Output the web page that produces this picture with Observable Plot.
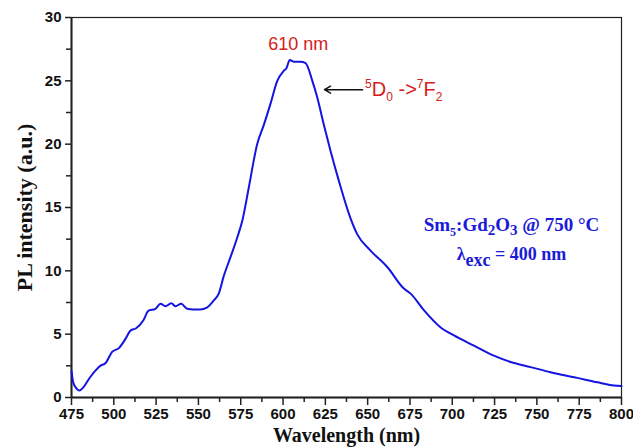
<!DOCTYPE html>
<html><head><meta charset="utf-8">
<script src="https://cdn.jsdelivr.net/npm/d3@7"></script>
<script src="https://cdn.jsdelivr.net/npm/@observablehq/plot@0.6"></script>
<style>body{margin:0;background:#fff;} svg{display:block;}</style>
</head><body><div id="chart"></div>
<script>
const wavelength = [475,476,478,479.7,482,486,489,492,495,499,503,507,510,513,517.5,520.5,524.6,527.6,530.5,534,536.5,539.8,543.4,547,551,555,559,562,565,569,573,576,579.8,584.7,588.6,592.6,596.6,600.5,602,604,606.4,610.3,613.3,617.3,620.2,624,628,633,640,643.8,651.7,661.6,671.4,675.4,683.2,693,701,712.8,724.6,734.5,746.3,758,773.9,785.7,795.5,800];
const intensity = [2.1,1.2,0.7,0.55,0.8,1.6,2.1,2.5,2.7,3.6,3.9,4.65,5.3,5.45,6.1,6.85,7.0,7.4,7.2,7.45,7.2,7.4,7.0,6.95,6.95,7.1,7.65,8.2,9.6,11.1,12.65,14.0,16.6,20.0,21.5,23.2,25.0,25.8,26.0,26.65,26.5,26.5,26.4,25.0,23.7,21.6,19.5,17.1,14.1,12.9,11.6,10.3,8.6,8.2,6.9,5.55,4.9,4.1,3.3,2.8,2.4,2.0,1.55,1.2,0.95,0.9];
const xTicks = [475,500,525,550,575,600,625,650,675,700,725,750,775,800];
const xMinor = [487.5,512.5,537.5,562.5,587.5,612.5,637.5,662.5,687.5,712.5,737.5,762.5,787.5];
const yTicks = [0,5,10,15,20,25,30];
const yMinor = [2.5,7.5,12.5,17.5,22.5,27.5];
const peakLabel = "610 nm";
const transitionLabel = "5D0 ->7F2";
const sampleLabel = "Sm5:Gd2O3 @ 750 °C";
const excLabel = "λexc = 400 nm";
const xLabel = "Wavelength (nm)";
const yLabel = "PL intensity (a.u.)";

const data = wavelength.map((w, i) => ({w, v: intensity[i]}));
const sans = "'Liberation Sans', Arial, sans-serif";
const serif = "'Liberation Serif', 'Times New Roman', serif";

const chart = Plot.plot({
  width: 633, height: 448,
  marginLeft: 71, marginRight: 12, marginTop: 17, marginBottom: 51,
  style: {fontFamily: sans, background: "#fff"},
  x: {domain: [475, 800]},
  y: {domain: [0, 30]},
  marks: [
    Plot.frame({stroke: "#222", strokeWidth: 1.2}),
    Plot.axisX({ticks: xTicks, tickSize: 8, tickPadding: 3, label: null, fill: "#111", stroke: "#222", strokeWidth: 1.5}),
    Plot.axisX({ticks: xMinor, tickSize: 5, tickFormat: () => "", label: null, stroke: "#222", strokeWidth: 1.5}),
    Plot.axisY({ticks: yTicks, tickSize: 6, tickPadding: 4, label: null, fill: "#111", stroke: "#222", strokeWidth: 1.5}),
    Plot.axisY({ticks: yMinor, tickSize: 5, tickFormat: () => "", label: null, stroke: "#222", strokeWidth: 1.5}),
    Plot.ruleX([475], {stroke: "#222", strokeWidth: 2}),
    Plot.ruleY([0], {stroke: "#222", strokeWidth: 2}),
    Plot.line(data, {x: "w", y: "v", stroke: "#1414e0", strokeWidth: 2, curve: "monotone-x"}),
    Plot.text([peakLabel], {x: 609, y: 27.9, fill: "#d42020", fontSize: 18, fontFamily: sans}),
    Plot.arrow([{x1: 647, x2: 624.5, y: 24.3}], {x1: "x1", x2: "x2", y1: "y", y2: "y", stroke: "#111", strokeWidth: 1.5, headLength: 7}),
    Plot.text([transitionLabel], {x: 648.5, y: 24.3, textAnchor: "start", fill: "#d42020", fontSize: 20, fontFamily: sans}),
    Plot.text([sampleLabel], {x: 735, y: 13.6, fill: "#1a1ad8", fontSize: 19, fontWeight: "bold", fontFamily: serif}),
    Plot.text([excLabel], {x: 735, y: 11.3, fill: "#1a1ad8", fontSize: 18, fontWeight: "bold", fontFamily: serif}),
    Plot.text([xLabel], {frameAnchor: "bottom", dy: 44, fontSize: 20, fontWeight: "bold", fontFamily: serif, fill: "#111"}),
    Plot.text([yLabel], {frameAnchor: "left", dx: -47, rotate: -90, textAnchor: "middle", fontSize: 22, fontWeight: "bold", fontFamily: serif, fill: "#111"})
  ]
});
document.getElementById("chart").appendChild(chart);

// tick label styling (numeric labels only)
d3.select(chart).selectAll("text")
  .filter(function() { return /^\d+$/.test(this.textContent.trim()); })
  .style("font-size", "15px").style("font-weight", "bold").style("font-family", sans);

// rich text (sub/superscripts)
function rich(content, parts) {
  d3.select(chart).selectAll("text").filter(function() { return this.textContent === content; }).each(function() {
    const t = d3.select(this);
    t.text(null);
    let shift = 0;
    for (const [s, kind, size, off] of parts) {
      const target = off !== undefined ? off : kind === "sub" ? 5 : kind === "sup" ? -8 : 0;
      const ts = t.append("tspan").text(s).attr("dy", target - shift);
      if (size) ts.attr("font-size", size);
      shift = target;
    }
  });
}
rich(transitionLabel, [["5", "sup", 12], ["D", null], ["0", "sub", 12], [" ->", null], ["7", "sup", 12], ["F", null], ["2", "sub", 12]]);
rich(sampleLabel, [["Sm", null], ["5", "sub", 12], [":Gd", null], ["2", "sub", 15, 4], ["O", null], ["3", "sub", 15, 4], [" @ 750 °C", null]]);
rich(excLabel, [["λ", null], ["exc", "sub", 18, 6], [" = 400 nm", null]]);
</script></body></html>
